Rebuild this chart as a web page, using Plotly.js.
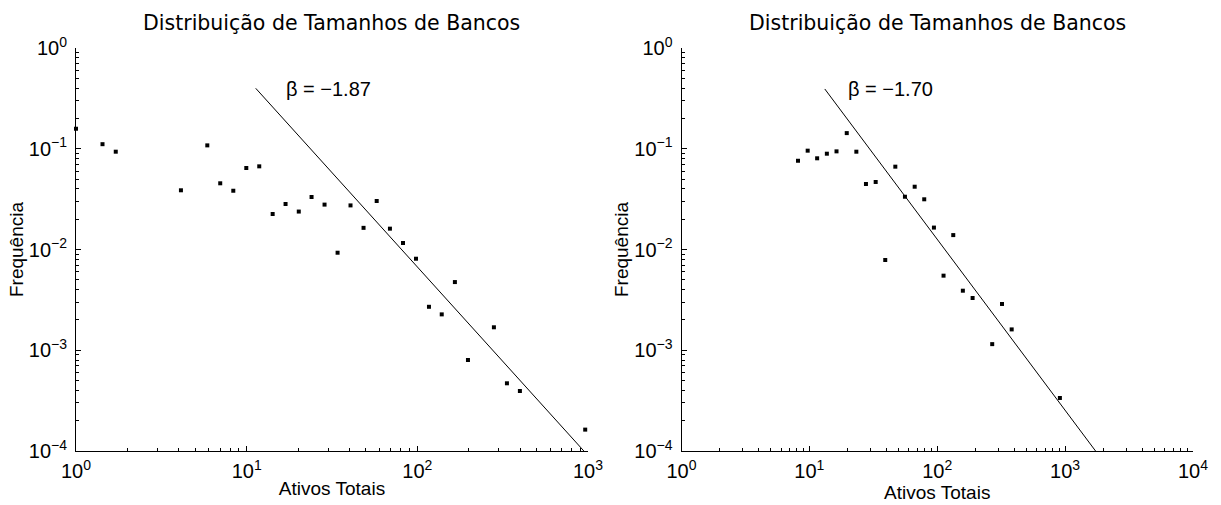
<!DOCTYPE html>
<html>
<head>
<meta charset="utf-8">
<script src="https://cdn.plot.ly/plotly-3.0.1.min.js"></script>
<style>html,body{margin:0;padding:0;background:#fff}#chart{width:1221px;height:505px}</style>
</head>
<body>
<div id="chart"></div>
<script>
// ---- Data ----
const leftX = [1.0, 1.43, 1.71, 4.12, 5.88, 7.0, 8.35, 9.95, 11.85, 14.2, 16.9, 20.2, 24.0, 28.6, 34.1, 40.6, 48.4, 57.8, 69.1, 82.4, 98.2, 117, 139, 166, 198, 281, 335, 399, 963];
const leftY = [0.158, 0.111, 0.0935, 0.0387, 0.108, 0.0454, 0.0383, 0.0644, 0.0669, 0.0225, 0.0283, 0.0238, 0.0332, 0.0279, 0.00929, 0.0274, 0.0164, 0.0303, 0.0161, 0.0116, 0.0081, 0.0027, 0.00227, 0.00475, 0.0008, 0.00169, 0.00047, 0.000394, 0.000163];
const leftFitX = [11.3, 946];
const leftFitY = [0.398, 0.0001];
const leftBeta = "β = −1.87";

const rightX = [8.15, 9.7, 11.5, 13.7, 16.3, 19.6, 23.3, 27.7, 33.0, 39.2, 47.0, 55.9, 66.6, 79.1, 94.2, 112, 133.4, 158.6, 189, 269, 321, 382, 910];
const rightY = [0.076, 0.0957, 0.0804, 0.0893, 0.0942, 0.143, 0.0935, 0.0447, 0.0468, 0.00787, 0.0664, 0.0334, 0.042, 0.0315, 0.0165, 0.0055, 0.0139, 0.0039, 0.0033, 0.00115, 0.00288, 0.00161, 0.000336];
const rightFitX = [13.2, 1730];
const rightFitY = [0.392, 0.0001];
const rightBeta = "β = −1.70";

const chartTitle = "Distribuição de Tamanhos de Bancos";
const xTitle = "Ativos Totais";
const yTitle = "Frequência";

const xTickValsLeft = [1, 10, 100, 1000];
const xTickTextLeft = ["10<sup>0</sup>", "10<sup>1</sup>", "10<sup>2</sup>", "10<sup>3</sup>"];
const xTickValsRight = [1, 10, 100, 1000, 10000];
const xTickTextRight = ["10<sup>0</sup>", "10<sup>1</sup>", "10<sup>2</sup>", "10<sup>3</sup>", "10<sup>4</sup>"];
const yTickVals = [0.0001, 0.001, 0.01, 0.1, 1];
const yTickText = ["10<sup>−4</sup>", "10<sup>−3</sup>", "10<sup>−2</sup>", "10<sup>−1</sup>", "10<sup>0</sup>"];

// minor tick positions (2..9 within each decade)
function minorTicks(lo, hi) {
  const out = [];
  for (let e = lo; e < hi; e++) for (let m = 2; m <= 9; m++) out.push(m * Math.pow(10, e));
  return out;
}

const tickFont = {family: "Liberation Sans, Arial, sans-serif", size: 20, color: "#000"};
const titleFont = {family: "Liberation Sans, Arial, sans-serif", size: 19, color: "#000"};

function xAxis(domain, nDec, vals, text, anchor) {
  return {
    type: "log", domain: domain, range: [0, nDec], anchor: anchor,
    showline: true, linecolor: "#000", linewidth: 1, mirror: false,
    showgrid: false, zeroline: false,
    ticks: "inside", ticklen: 5, tickwidth: 1, tickcolor: "#000",
    tickmode: "array", tickvals: vals, ticktext: text,
    tickfont: tickFont, ticklabelstandoff: 2,
    minor: {ticks: "inside", ticklen: 3, tickwidth: 1, tickcolor: "#000", tickmode: "array", tickvals: minorTicks(0, nDec), showgrid: false},
    title: {text: xTitle, font: titleFont, standoff: 0},
    fixedrange: true
  };
}
function yAxis(anchor) {
  return {
    type: "log", domain: [0.10693, 0.90495], range: [-4, 0], anchor: anchor,
    showline: true, linecolor: "#000", linewidth: 1, mirror: false,
    showgrid: false, zeroline: false,
    ticks: "inside", ticklen: 5, tickwidth: 1, tickcolor: "#000",
    tickmode: "array", tickvals: yTickVals, ticktext: yTickText,
    tickfont: tickFont, ticklabelstandoff: 4,
    minor: {ticks: "inside", ticklen: 3, tickwidth: 1, tickcolor: "#000", tickmode: "array", tickvals: minorTicks(-4, 0), showgrid: false},
    title: {text: yTitle, font: titleFont, standoff: 0},
    fixedrange: true
  };
}

const markerStyle = {symbol: "square", size: 4, color: "#000"};
const lineStyle = {color: "#000", width: 1};

const data = [
  {x: leftX, y: leftY, type: "scatter", mode: "markers", marker: markerStyle, xaxis: "x", yaxis: "y", cliponaxis: false, hoverinfo: "skip"},
  {x: leftFitX, y: leftFitY, type: "scatter", mode: "lines", line: lineStyle, xaxis: "x", yaxis: "y", hoverinfo: "skip"},
  {x: rightX, y: rightY, type: "scatter", mode: "markers", marker: markerStyle, xaxis: "x2", yaxis: "y2", cliponaxis: false, hoverinfo: "skip"},
  {x: rightFitX, y: rightFitY, type: "scatter", mode: "lines", line: lineStyle, xaxis: "x2", yaxis: "y2", hoverinfo: "skip"}
];

const headFont = {family: "DejaVu Sans, sans-serif", size: 20.5, color: "#000"};
const betaFont = {family: "Liberation Sans, Arial, sans-serif", size: 20, color: "#000"};

const layout = {
  width: 1221, height: 505,
  margin: {l: 0, r: 0, t: 0, b: 0},
  paper_bgcolor: "#fff", plot_bgcolor: "#fff",
  showlegend: false,
  xaxis: xAxis([0.06224, 0.48157], 3, xTickValsLeft, xTickTextLeft, "y"),
  yaxis: yAxis("x"),
  xaxis2: xAxis([0.55815, 0.97707], 4, xTickValsRight, xTickTextRight, "y2"),
  yaxis2: yAxis("x2"),
  annotations: [
    {text: chartTitle, xref: "paper", yref: "paper", x: 0.27190, y: 1 - 23/505, xanchor: "center", yanchor: "middle", showarrow: false, font: headFont},
    {text: chartTitle, xref: "paper", yref: "paper", x: 0.76761, y: 1 - 23/505, xanchor: "center", yanchor: "middle", showarrow: false, font: headFont},
    {text: leftBeta, xref: "x", yref: "y", x: 1.482, y: -0.41, xanchor: "center", yanchor: "middle", showarrow: false, font: betaFont},
    {text: rightBeta, xref: "x2", yref: "y2", x: 1.632, y: -0.41, xanchor: "center", yanchor: "middle", showarrow: false, font: betaFont}
  ]
};

Plotly.newPlot("chart", data, layout, {staticPlot: true, displayModeBar: false});
</script>
</body>
</html>
